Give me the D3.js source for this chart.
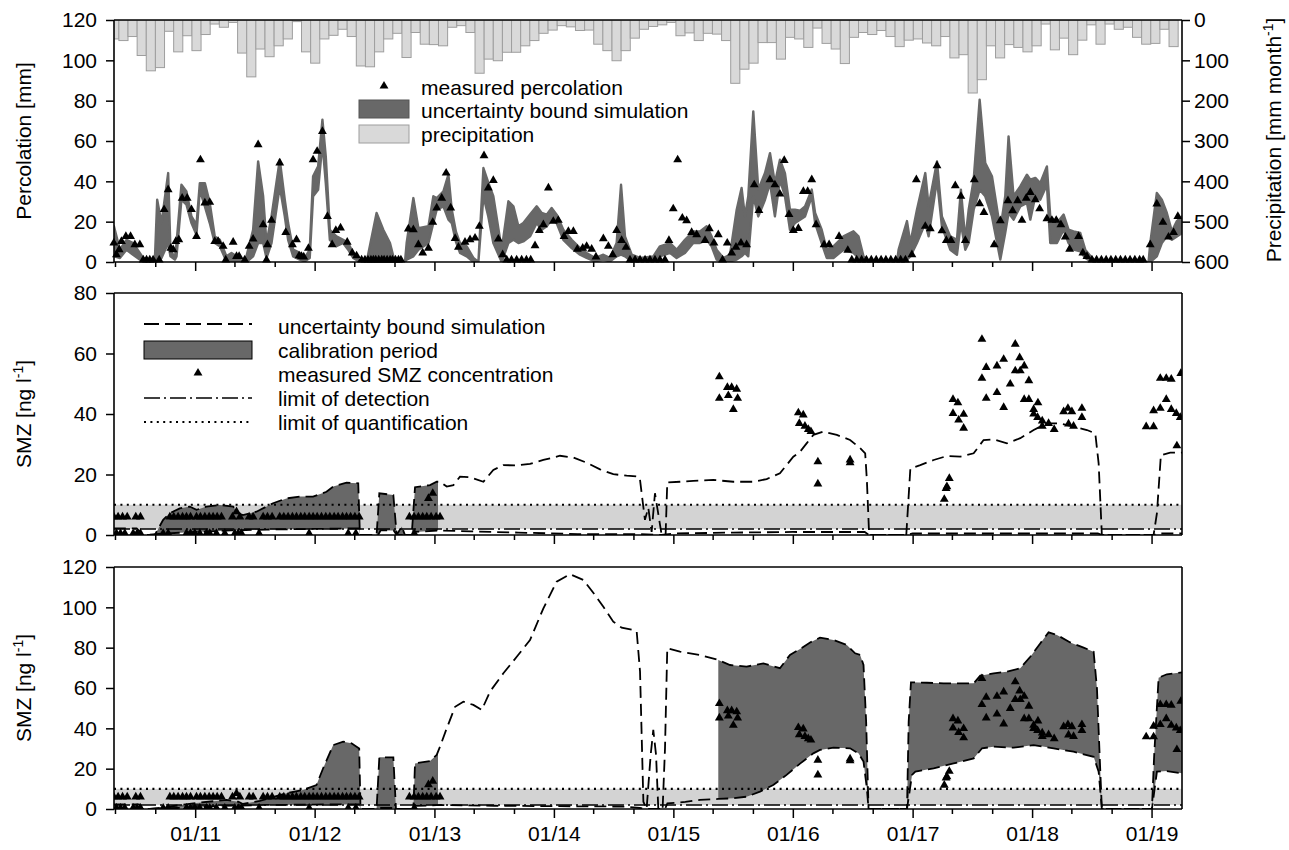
<!DOCTYPE html>
<html>
<head>
<meta charset="utf-8">
<script src="https://cdn.jsdelivr.net/npm/d3@7"></script>
<style>
  body { margin: 0; background: #fff; }
  text { font-family: "Liberation Sans", Arial, sans-serif; fill: #000; }
</style>
</head>
<body>
<svg id="chart" width="1289" height="850"></svg>
<script>
// ---- data (time as decimal years) ----
const precipStart = Date.UTC(2010, 3, 15);
const precipStepDays = 27.9;
const precip = [47,51,41,88,126,118,28,79,39,76,36,10,18,6,82,141,72,91,64,47,4,79,107,47,38,23,41,114,116,79,47,33,93,31,60,61,64,18,
  14,31,132,97,101,80,80,64,51,33,25,14,17,26,25,60,76,101,76,45,23,16,12,6,39,32,51,33,35,51,157,122,107,56,56,97,43,47,68,
  20,58,72,108,43,31,36,26,41,66,50,47,57,64,41,94,86,181,148,64,94,61,68,79,64,10,74,45,86,50,12,60,10,23,18,43,60,58,23,66];

// [time, lower, upper]
const percBand = [
  [2010.32,2.8,17.7],[2010.37,2.0,6.1],[2010.425,6.1,11.0],[2010.48,3.6,9.4],[2010.565,0,2.0],[2010.662,0,0],
  [2010.682,1.2,30.9],[2010.718,2.0,19.3],[2010.774,9.4,44.1],[2010.793,2.8,6.1],[2010.83,1.2,2.0],[2010.844,2.8,9.4],
  [2010.885,30.9,38.3],[2010.927,28.4,35.0],[2010.969,19.3,22.6],[2011.011,13.5,18.5],[2011.039,35.8,39.1],[2011.081,27.6,39.1],
  [2011.122,19.3,29.3],[2011.164,9.4,12.7],[2011.206,7.8,11.0],[2011.262,0.3,2.8],[2011.304,0,4.5],[2011.346,0,2.8],
  [2011.401,0,0],[2011.429,0,2.8],[2011.485,2.8,16.0],[2011.527,9.4,49.9],[2011.569,9.4,32.6],[2011.597,2.0,9.4],
  [2011.639,9.4,22.6],[2011.708,37.5,50.7],[2011.75,22.6,30.9],[2011.778,11.0,19.3],[2011.82,2.8,6.1],[2011.876,1.2,4.5],
  [2011.917,0.3,2.0],[2011.959,2.0,6.1],[2011.987,32.6,42.5],[2012.029,35.8,47.4],[2012.065,59.0,70.6],[2012.093,39.1,52.4],
  [2012.127,11.0,16.0],[2012.182,7.8,12.7],[2012.238,9.4,11.0],[2012.28,6.1,9.4],[2012.322,2.0,4.5],[2012.378,0,0.3],
  [2012.434,0,0],[2012.517,0,24.3],[2012.573,0,16.0],[2012.629,0,9.4],[2012.657,0,2.8],[2012.685,0,0],[2012.754,0,0],
  [2012.768,1.2,9.4],[2012.824,2.8,31.7],[2012.866,6.1,16.8],[2012.95,9.4,17.7],[2012.991,19.3,32.6],[2013.019,25.9,31.7],
  [2013.075,27.6,35.0],[2013.117,21.0,43.3],[2013.145,19.3,26.0],[2013.18,10.0,15.0],[2013.214,4.5,9.4],[2013.27,2.8,7.8],
  [2013.326,0,2.0],[2013.368,0,0],[2013.41,32.6,46.6],[2013.451,22.6,39.4],[2013.493,9.4,32.6],[2013.563,0,6.1],
  [2013.619,9.4,30.1],[2013.661,11.0,27.6],[2013.703,9.4,17.7],[2013.744,10.2,19.3],[2013.8,12.7,23.5],[2013.856,19.3,27.6],
  [2013.898,16.0,24.3],[2013.94,17.7,23.5],[2013.981,21.0,26.8],[2014.023,19.3,23.5],[2014.079,11.0,16.0],[2014.149,6.9,11.0],
  [2014.219,3.6,6.9],[2014.274,2.0,4.5],[2014.344,0.3,2.0],[2014.414,1.2,3.6],[2014.47,0.3,2.0],[2014.525,2.8,9.4],
  [2014.562,3.6,38.3],[2014.595,2.8,12.7],[2014.651,0.3,3.6],[2014.721,0,2.0],[2014.832,0.3,2.8],[2014.888,2.8,7.8],
  [2014.972,4.5,9.4],[2015.027,2.0,6.1],[2015.097,4.5,11.0],[2015.167,9.4,15.2],[2015.223,9.4,15.2],[2015.279,11.0,17.7],
  [2015.32,7.8,12.7],[2015.362,1.2,6.1],[2015.418,0,2.0],[2015.474,0.3,3.6],[2015.53,1.2,25.9],[2015.571,2.8,36.7],
  [2015.599,4.5,22.6],[2015.627,2.8,32.6],[2015.669,32.6,74.7],[2015.711,22.6,35.8],[2015.767,30.9,44.1],[2015.809,39.1,54.0],
  [2015.85,22.6,39.1],[2015.892,40.8,50.7],[2015.934,32.6,44.1],[2015.976,16.0,25.9],[2016.018,19.3,25.9],[2016.06,21.0,25.5],
  [2016.102,22.6,27.6],[2016.158,32.6,35.9],[2016.186,19.3,24.3],[2016.241,9.4,16.0],[2016.283,2.0,6.1],[2016.339,2.0,7.8],
  [2016.423,6.1,12.7],[2016.506,4.5,15.2],[2016.548,2.0,12.7],[2016.59,0,2.8],[2016.646,0,0],[2016.869,0,0],
  [2016.883,0,6.1],[2016.953,1.2,20.3],[2016.981,2.8,9.4],[2017.036,9.4,25.9],[2017.106,19.3,44.1],[2017.134,12.7,27.6],
  [2017.204,40.8,49.9],[2017.245,17.7,22.6],[2017.315,6.1,12.7],[2017.371,3.6,11.0],[2017.404,19.3,35.9],[2017.441,6.1,11.0],
  [2017.469,9.4,25.9],[2017.511,25.9,40.8],[2017.561,35.9,80.5],[2017.608,32.6,49.1],[2017.664,22.6,42.5],[2017.734,1.2,16.0],
  [2017.775,14.4,32.6],[2017.803,24.3,62.3],[2017.845,21.0,32.6],[2017.901,27.6,37.5],[2017.957,29.3,43.3],[2017.985,21.0,40.8],
  [2018.027,32.6,41.7],[2018.068,30.9,39.1],[2018.124,38.3,47.4],[2018.152,9.4,22.6],[2018.208,9.4,19.3],[2018.264,16.0,23.5],
  [2018.305,9.4,16.0],[2018.347,6.1,15.2],[2018.403,5.3,14.4],[2018.445,2.0,6.1],[2018.501,0,2.0],[2018.543,0,0],
  [2018.975,0,0],[2018.989,0,9.4],[2019.044,2.8,34.2],[2019.086,9.4,30.9],[2019.128,12.7,24.3],[2019.17,11.0,15.2],
  [2019.212,12.7,20.3],[2019.256,14.4,22.6]
];

const percMeasured = [
  [2010.319,9.4],[2010.341,3.6],[2010.364,6.1],[2010.383,10.2],[2010.42,12.7],[2010.459,12.7],[2010.495,8.6],[2010.537,8.6],
  [2010.565,1],[2010.593,1],[2010.62,1],[2010.648,1],[2010.699,1],
  [2010.74,26.0],[2010.774,35.9],[2010.796,6.9],[2010.816,6.1],[2010.838,10.2],[2010.863,11.1],[2010.891,31.7],[2010.933,31.7],
  [2010.969,26.0],[2011.011,12.7],[2011.044,50.7],[2011.081,29.3],[2011.122,29.6],[2011.164,10.2],[2011.192,10.2],[2011.234,7.8],
  [2011.256,1],[2011.318,9.8],[2011.346,2.8],[2011.368,2.8],[2011.415,1],[2011.452,7.8],[2011.485,11.4],[2011.527,58.2],
  [2011.569,18.5],[2011.597,1],[2011.605,8.6],[2011.639,20.7],[2011.708,49.1],[2011.758,14.7],[2011.814,8.6],[2011.848,11.1],
  [2011.87,3.1],[2011.89,2.8],[2011.909,2.5],[2011.948,6.8],[2011.987,50.7],[2012.021,54.9],[2012.065,64.8],[2012.107,22.6],
  [2012.146,8.6],[2012.177,15.7],[2012.216,16.9],[2012.272,9.8],[2012.314,4.5],[2012.35,3.1],[2012.392,1],
  [2012.42,1],[2012.445,1],[2012.47,1],[2012.49,1],[2012.51,1],[2012.535,1],[2012.56,1],[2012.58,1],[2012.605,1],[2012.63,1],
  [2012.65,1],[2012.675,1],[2012.70,1],[2012.72,1],
  [2012.782,16.4],[2012.824,16.0],[2012.866,8.6],[2012.902,4.5],[2012.95,6.9],[2012.986,19.7],[2013.019,26.8],[2013.061,31.7],
  [2013.098,44.1],[2013.136,26.8],[2013.173,11.7],[2013.201,7.4],[2013.256,9.8],[2013.298,11.1],[2013.34,11.9],[2013.376,17.7],
  [2013.415,52.7],[2013.451,36.7],[2013.493,40.5],[2013.535,11.4],[2013.571,3.6],
  [2013.605,1],[2013.645,1],[2013.688,1],[2013.73,1],[2013.77,1],[2013.806,1],
  [2013.842,8.1],[2013.878,15.7],[2013.912,18.5],[2013.954,36.7],[2013.995,20.2],[2014.037,20.7],[2014.085,12.7],[2014.121,15.2],
  [2014.163,15.2],[2014.196,6.4],[2014.241,6.9],[2014.274,7.8],[2014.316,6.4],[2014.352,2.5],[2014.414,11.6],[2014.456,7.8],
  [2014.492,3.6],[2014.525,15.7],[2014.567,10.7],[2014.604,7.3],
  [2014.637,1],[2014.679,1],[2014.721,1],[2014.763,1],[2014.804,1],[2014.846,1],[2014.888,1],[2014.93,1],
  [2014.963,10.7],[2014.999,26.4],[2015.036,50.7],[2015.075,21.8],[2015.111,20.5],[2015.153,14.7],[2015.195,13.6],[2015.265,10.7],
  [2015.301,16.5],[2015.34,9.4],[2015.376,13.6],[2015.412,1],[2015.451,9.4],[2015.488,4.5],[2015.524,7.4],[2015.566,9.4],
  [2015.613,8.6],[2015.677,38.3],[2015.716,25.6],[2015.808,40.8],[2015.85,38.3],[2015.892,33.7],[2015.928,50.4],[2015.968,23.6],
  [2016.004,15.7],[2016.046,16.7],[2016.088,35.0],[2016.124,35.0],[2016.158,40.8],[2016.194,18.5],[2016.261,8.6],[2016.303,8.6],
  [2016.386,12.7],[2016.459,5.8],
  [2016.492,1],[2016.533,1],[2016.574,1],[2016.614,1],[2016.655,1],[2016.696,1],[2016.737,1],[2016.777,1],[2016.818,1],
  [2016.859,1],[2016.9,1],[2016.94,1],
  [2016.994,3.6],[2017.031,40.8],[2017.106,17.7],[2017.148,16.5],[2017.204,47.8],[2017.245,15.5],[2017.282,10.7],[2017.321,10.7],
  [2017.357,37.9],[2017.404,32.6],[2017.441,10.7],[2017.516,40.8],[2017.561,28.9],[2017.597,24.6],[2017.683,8.6],[2017.734,20.5],
  [2017.798,30.4],[2017.837,25.5],[2017.879,30.4],[2017.915,20.7],[2017.951,31.7],[2017.985,34.5],[2018.027,30.9],[2018.063,26.4],
  [2018.124,21.5],[2018.166,20.7],[2018.202,20.7],[2018.241,18.5],[2018.278,12.4],[2018.314,6.4],[2018.389,12.7],[2018.425,4.5],
  [2018.459,2.8],
  [2018.501,1],[2018.54,1],[2018.58,1],[2018.62,1],[2018.66,1],[2018.70,1],[2018.74,1],[2018.78,1],[2018.82,1],[2018.86,1],
  [2018.90,1],[2018.93,1],
  [2018.989,8.6],[2019.044,28.8],[2019.095,19.7],[2019.142,12.4],[2019.184,14.7],[2019.22,22.6]
];

// SMZ: limits (ng/l)
const smzLOD = 2;
const smzLOQ = 10;

// measured SMZ concentration (same series in both lower panels)
const smzMeasured = [
  [2010.319,6],[2010.355,6],[2010.392,6],[2010.431,6],[2010.503,6],[2010.542,6],
  [2010.788,6],[2010.821,6],[2010.857,6],[2010.894,6],[2010.927,6],[2010.961,6],
  [2011.011,6],[2011.044,6],[2011.081,6],[2011.117,6],[2011.15,6],[2011.184,6],[2011.22,6],
  [2011.312,6],[2011.346,7.7],[2011.374,6],[2011.452,6],[2011.485,6],[2011.569,6],[2011.605,6],[2011.644,6],
  [2011.708,6],[2011.742,6],[2011.778,6],[2011.814,6],[2011.848,6],[2011.884,6],[2011.917,6],[2011.954,6],[2011.987,6],
  [2012.021,6],[2012.057,6],[2012.093,6],[2012.127,6],[2012.163,6],[2012.196,6],[2012.233,6],[2012.266,6],[2012.3,6],
  [2012.336,6],[2012.372,6],
  [2012.791,6],[2012.83,6],[2012.866,6],[2012.902,6],[2012.936,6],[2012.972,6],[2013.014,6],[2013.047,6],
  [2010.341,0.5],[2010.375,0.5],[2010.411,0.5],[2010.481,0.5],[2010.514,0.5],[2010.542,0.5],[2010.732,0.5],[2010.774,0.5],
  [2010.927,0.5],[2010.961,0.5],[2010.997,0.5],[2011.039,0.5],[2011.095,0.5],[2011.122,0.5],[2011.178,0.5],[2011.248,0.5],
  [2011.332,0.5],[2011.36,0.5],[2011.388,0.5],[2011.535,0.5],[2011.954,0.5],[2012.28,0.5],[2012.344,0.5],[2012.832,0.5],
  [2012.95,12.1],[2012.986,13.8],
  [2015.385,52.3],[2015.452,48.8],[2015.488,48.8],[2015.53,48.2],[2015.385,45.2],[2015.46,46.1],[2015.538,45.2],[2015.502,41.5],
  [2016.046,40.4],[2016.087,39.7],[2016.054,36.9],[2016.101,36.0],[2016.129,34.9],[2016.151,34.2],[2016.209,24.2],[2016.209,16.9],
  [2016.478,24.8],[2016.478,23.9],
  [2017.265,11.8],[2017.28,15.4],[2017.287,16.0],[2017.307,18.7],
  [2017.338,44.8],[2017.379,43.7],[2017.338,40.2],[2017.385,38.0],[2017.427,39.9],[2017.427,35.3],
  [2017.58,64.7],[2017.58,51.8],[2017.616,55.4],[2017.616,45.2],[2017.706,55.9],[2017.706,47.1],[2017.762,58.1],[2017.762,42.2],
  [2017.817,49.9],[2017.859,63.1],[2017.859,54.3],[2017.896,58.6],[2017.901,54.3],[2017.934,55.9],[2017.973,51.0],[2017.934,44.8],
  [2017.973,44.8],[2018.013,41.5],[2018.049,43.7],[2018.013,40.0],[2018.046,38.9],[2018.085,37.7],[2018.085,36.0],[2018.138,36.9],
  [2018.185,34.9],[2018.264,40.8],[2018.3,41.9],[2018.333,40.8],[2018.417,41.9],[2018.417,38.9],[2018.305,36.7],[2018.347,36.0],
  [2018.955,35.8],[2019.017,35.8],[2019.017,41.1],[2019.073,41.9],[2019.123,44.8],[2019.073,51.8],[2019.123,51.8],[2019.165,51.5],
  [2019.165,41.5],[2019.207,40.2],[2019.24,38.9],[2019.245,53.4],[2019.212,29.5]
];

// middle panel: uncertainty bounds
const smzUpperA = [
  [2010.319,2.2],[2010.51,2.2],[2010.565,0],[2010.662,0],[2010.732,5.0],[2010.788,7.2],[2010.871,8.8],[2010.955,9.4],
  [2011.011,8.3],[2011.095,9.4],[2011.206,9.9],[2011.318,9.4],[2011.36,7.2],[2011.40,6.6],[2011.513,7.7],[2011.652,10.5],
  [2011.764,12.1],[2011.876,12.7],[2011.987,12.7],[2012.099,14.3],[2012.155,16.0],[2012.266,17.3],[2012.364,17.1],[2012.378,0],
  [2012.517,0],[2012.54,13.8],[2012.657,13.2],[2012.685,0],[2012.727,2.8],[2012.754,0],[2012.81,0],[2012.838,15.8],
  [2012.963,16.5],[2013.019,17.6],[2013.047,17.6],[2013.103,16.0],[2013.159,16.5],[2013.214,19.3],[2013.298,19.1],[2013.41,17.6],
  [2013.493,21.5],[2013.577,23.1],[2013.689,23.0],[2013.8,23.5],[2013.912,24.8],[2014.051,26.2],[2014.163,25.6],[2014.274,23.9],
  [2014.386,21.7],[2014.497,20.1],[2014.609,19.6],[2014.707,19.3],[2014.72,18.5],[2014.762,5.0],[2014.79,9.0],[2014.818,1.0],
  [2014.846,13.8],[2014.902,0],[2014.935,0],[2014.949,17.4],[2015.055,17.6],[2015.167,17.9],[2015.334,18.2],[2015.502,17.6],
  [2015.669,17.6],[2015.781,18.5],[2015.892,20.4],[2016.004,25.9],[2016.06,27.5],[2016.115,30.3],[2016.172,33.1],[2016.255,34.2],
  [2016.367,33.1],[2016.478,31.4],[2016.562,28.7],[2016.604,27.0],[2016.618,18.2],[2016.637,0],[2016.947,0],[2016.981,22.0],
  [2017.064,23.1],[2017.176,24.8],[2017.287,26.1],[2017.399,25.9],[2017.511,27.0],[2017.594,31.4],[2017.678,31.6],[2017.789,30.3],
  [2017.901,32.0],[2018.013,34.7],[2018.124,36.9],[2018.236,36.9],[2018.347,35.8],[2018.459,34.7],[2018.529,33.6],[2018.557,23.7],
  [2018.584,0],[2019.017,0],[2019.045,7.2],[2019.078,26.4],[2019.156,27.2],[2019.256,27.2]
];
const smzLowerA = [
  [2010.319,0.5],[2010.565,0],[2010.75,0.5],[2011.0,1.0],[2011.3,1.5],[2011.6,1.8],[2012.0,2.0],[2012.37,2.2],[2012.378,0],
  [2012.53,0],[2012.55,1.5],[2012.66,1.5],[2012.685,0],[2012.82,0],[2012.84,1.0],[2013.03,1.5],[2013.3,1.2],[2013.7,0.8],
  [2014.2,0.3],[2014.7,0.3],[2014.9,0],[2015.0,0.5],[2015.5,0.8],[2016.0,1.0],[2016.6,1.0],[2016.637,0],[2016.947,0],
  [2017.0,0.5],[2018.55,0.5],[2018.584,0],[2019.017,0],[2019.05,0.5],[2019.256,0.5]
];
const calibA = [[2010.66, 2013.03]];

// lower panel: uncertainty bounds
const smzUpperB = [
  [2010.319,2.3],[2010.53,2.3],[2010.565,0],[2010.62,0],[2010.76,1.0],[2011.011,3.0],[2011.262,4.5],[2011.36,3.6],[2011.40,2.5],
  [2011.541,4.0],[2011.764,7.8],[2011.904,9.4],[2012.015,11.9],[2012.071,20.2],[2012.155,31.7],[2012.238,33.4],[2012.308,32.6],
  [2012.372,30.0],[2012.383,0],[2012.517,0],[2012.54,25.6],[2012.657,25.6],[2012.679,0],[2012.824,0],[2012.838,22.6],
  [2012.963,23.8],[2013.019,26.8],[2013.047,31.0],[2013.103,40.0],[2013.173,50.7],[2013.242,53.2],[2013.326,51.6],[2013.396,49.1],
  [2013.465,58.2],[2013.577,67.3],[2013.689,75.5],[2013.8,83.8],[2013.912,99.5],[2014.023,112.7],[2014.135,116.4],[2014.246,113.6],
  [2014.344,106.1],[2014.414,100.3],[2014.497,92.9],[2014.567,89.9],[2014.665,88.8],[2014.693,88.0],[2014.721,68.1],[2014.749,3.6],
  [2014.776,0],[2014.81,26.8],[2014.832,39.2],[2014.855,26.8],[2014.874,0],[2014.91,0],[2014.93,30.0],[2014.949,79.7],
  [2015.055,78.0],[2015.223,76.4],[2015.376,73.9],[2015.474,71.4],[2015.613,70.6],[2015.753,72.2],[2015.892,69.8],[2015.976,76.4],
  [2016.06,79.3],[2016.144,82.6],[2016.227,85.0],[2016.339,83.8],[2016.451,81.3],[2016.52,77.2],[2016.562,76.4],[2016.59,71.4],
  [2016.612,43.3],[2016.632,0],[2016.953,0],[2016.967,43.3],[2016.986,62.8],[2017.12,62.6],[2017.259,62.3],[2017.371,62.3],
  [2017.511,62.3],[2017.566,66.1],[2017.678,67.3],[2017.789,68.1],[2017.901,69.8],[2017.985,75.5],[2018.068,82.1],[2018.138,87.6],
  [2018.208,86.3],[2018.319,82.6],[2018.431,80.0],[2018.515,78.0],[2018.543,59.8],[2018.571,18.5],[2018.584,0],[2019.003,0],
  [2019.022,26.8],[2019.059,65.1],[2019.128,66.8],[2019.256,67.8]
];
const smzLowerB = [
  [2010.319,0.5],[2010.565,0],[2010.85,0.5],[2011.2,1.5],[2011.6,2.0],[2012.0,2.2],[2012.37,2.3],[2012.383,0],[2012.517,0],
  [2012.54,0.5],[2012.657,0.5],[2012.679,0],[2012.824,0],[2012.84,1.5],[2013.05,2.0],[2013.5,1.6],[2014.0,1.4],[2014.6,1.2],
  [2014.72,0.5],[2014.776,0],[2014.93,0],[2014.95,2.8],[2015.1,3.5],[2015.223,4.5],[2015.376,5.0],[2015.5,5.3],[2015.613,6.1],
  [2015.725,8.6],[2015.836,11.9],[2015.948,16.9],[2016.06,22.5],[2016.171,27.6],[2016.227,29.3],[2016.339,30.4],[2016.478,30.1],
  [2016.548,27.6],[2016.59,23.5],[2016.618,10.2],[2016.632,0],[2016.953,0],[2016.995,16.9],[2017.023,18.5],[2017.176,20.2],
  [2017.343,22.6],[2017.511,25.1],[2017.581,30.1],[2017.678,30.9],[2017.845,30.4],[2018.013,31.7],[2018.18,30.1],[2018.347,28.4],
  [2018.515,25.9],[2018.557,18.5],[2018.584,0],[2019.003,0],[2019.045,18.5],[2019.128,18.8],[2019.256,17.7]
];
const calibB = [[2010.66, 2013.03], [2015.376, 2019.26]];

const percTicks = [0, 20, 40, 60, 80, 100, 120];
const precipTicks = [0, 100, 200, 300, 400, 500, 600];
const smzTicksA = [0, 20, 40, 60, 80];
const smzTicksB = [0, 20, 40, 60, 80, 100, 120];

// ---- helpers ----
function dec(y) {
  const yr = Math.floor(y);
  const a = Date.UTC(yr, 0, 1), b = Date.UTC(yr + 1, 0, 1);
  return new Date(a + (y - yr) * (b - a));
}
const precipDate = i => new Date(precipStart + i * precipStepDays * 86400000);

const svg = d3.select("#chart");
const xL = 114, xR = 1182;
const x = d3.scaleUtc()
  .domain([new Date(Date.UTC(2010, 3, 28)), new Date(Date.UTC(2019, 3, 4))])
  .range([xL, xR]);

const dark = "#686868";
const FS = 21;
const tri = d3.symbol().type(d3.symbolTriangle).size(34);
const defs = svg.append("defs");

function clip(id, top, bottom) {
  defs.append("clipPath").attr("id", id)
    .append("rect").attr("x", xL).attr("y", top).attr("width", xR - xL).attr("height", bottom - top);
}

function calibClip(id, periods, top, bottom) {
  const cp = defs.append("clipPath").attr("id", id);
  periods.forEach(p => {
    const a = Math.max(xL, x(dec(p[0]))), b = Math.min(xR, x(dec(p[1])));
    cp.append("rect").attr("x", a).attr("y", top).attr("width", b - a).attr("height", bottom - top);
  });
}

function xAxes(bottom, labels) {
  const major = d3.axisBottom(x).ticks(d3.utcYear.every(1)).tickSize(9).tickPadding(8)
    .tickFormat(labels ? d3.utcFormat("%m/%y") : "");
  const minorVals = x.ticks(d3.utcMonth.every(4)).filter(d => d.getUTCMonth() !== 0);
  const minor = d3.axisBottom(x).tickValues(minorVals).tickSize(5).tickFormat("");
  const gMaj = svg.append("g").attr("transform", `translate(0,${bottom})`).call(major);
  const gMin = svg.append("g").attr("transform", `translate(0,${bottom})`).call(minor);
  [gMaj, gMin].forEach(g => {
    g.select(".domain").remove();
    g.selectAll("line").attr("stroke", "#000").attr("stroke-width", 1.5);
  });
  gMaj.selectAll("text").attr("font-size", FS).attr("font-family", "Liberation Sans, Arial, sans-serif");
}

function yAxisLeft(scale, ticks) {
  const g = svg.append("g").attr("transform", `translate(${xL},0)`)
    .call(d3.axisLeft(scale).tickValues(ticks).tickSize(8).tickPadding(9));
  g.select(".domain").remove();
  g.selectAll("line").attr("stroke", "#000").attr("stroke-width", 1.5);
  g.selectAll("text").attr("font-size", FS).attr("font-family", "Liberation Sans, Arial, sans-serif");
}

function frame(top, bottom) {
  const f = svg.append("g").attr("stroke", "#000").attr("stroke-width", 1.6).attr("fill", "none");
  f.append("line").attr("x1", xL).attr("x2", xL).attr("y1", top).attr("y2", bottom);
  f.append("line").attr("x1", xL).attr("x2", xR).attr("y1", bottom).attr("y2", bottom);
  f.append("line").attr("x1", xL).attr("x2", xR).attr("y1", top).attr("y2", top);
  f.append("line").attr("x1", xR).attr("x2", xR).attr("y1", top).attr("y2", bottom);
}

function yTitle(cx, cy, main, sup, tail) {
  const t = svg.append("text").attr("transform", `translate(${cx},${cy}) rotate(-90)`)
    .attr("text-anchor", "middle").attr("font-size", FS);
  t.append("tspan").text(main);
  if (sup) {
    t.append("tspan").attr("font-size", 14).attr("dy", -8).text(sup);
    t.append("tspan").attr("dy", 8).text(tail);
  }
}

// ================= Panel 1: percolation & precipitation =================
const yPerc = d3.scaleLinear().domain([0, 120]).range([262, 20]);
const yPrec = d3.scaleLinear().domain([0, 600]).range([20, 262]);
clip("c1", 20, 262);

const g1 = svg.append("g").attr("clip-path", "url(#c1)");
g1.selectAll("rect.pr").data(precip).join("rect")
  .attr("class", "pr")
  .attr("x", (d, i) => x(precipDate(i)))
  .attr("width", (d, i) => x(precipDate(i + 1)) - x(precipDate(i)))
  .attr("y", yPrec(0))
  .attr("height", d => yPrec(d) - yPrec(0))
  .attr("fill", "#d9d9d9")
  .attr("stroke", "#9e9e9e")
  .attr("stroke-width", 1);

g1.append("path").datum(percBand)
  .attr("fill", dark)
  .attr("stroke", dark)
  .attr("stroke-width", 2.4)
  .attr("stroke-linejoin", "round")
  .attr("d", d3.area().x(d => x(dec(d[0]))).y0(d => yPerc(d[1])).y1(d => yPerc(d[2])));

svg.append("g").selectAll("path").data(percMeasured).join("path")
  .attr("d", tri)
  .attr("transform", d => `translate(${x(dec(d[0]))},${yPerc(d[1])})`)
  .attr("fill", "#000");

frame(20, 262);
xAxes(262, false);
yAxisLeft(yPerc, percTicks);
{
  const g = svg.append("g").attr("transform", `translate(${xR},0)`)
    .call(d3.axisRight(yPrec).tickValues(precipTicks).tickSize(8).tickPadding(4));
  g.select(".domain").remove();
  g.selectAll("line").attr("stroke", "#000").attr("stroke-width", 1.5);
  g.selectAll("text").attr("font-size", FS).attr("font-family", "Liberation Sans, Arial, sans-serif");
}
yTitle(31, 141, "Percolation [mm]");
yTitle(1281, 140, "Precipitation [mm month", "-1", "]");

// legend 1
{
  const lg = svg.append("g");
  lg.append("path").attr("d", tri).attr("transform", "translate(384,86)").attr("fill", "#000");
  lg.append("rect").attr("x", 359).attr("y", 100).attr("width", 50).attr("height", 18).attr("fill", dark).attr("stroke", "#555");
  lg.append("rect").attr("x", 359).attr("y", 125).attr("width", 50).attr("height", 18).attr("fill", "#d9d9d9").attr("stroke", "#9e9e9e");
  [["measured percolation", 87], ["uncertainty bound simulation", 110], ["precipitation", 134]].forEach(r => {
    lg.append("text").attr("x", 421).attr("y", r[1] + 7.5).attr("font-size", FS).text(r[0]);
  });
}

// ================= SMZ panels =================
function smzPanel(id, top, bottom, yMax, ticks, upper, lower, calib, labels) {
  const y = d3.scaleLinear().domain([0, yMax]).range([bottom, top]);
  clip(id, top, bottom);
  calibClip(id + "cal", calib, top, bottom);
  const g = svg.append("g").attr("clip-path", `url(#${id})`);

  g.append("rect").attr("x", xL).attr("width", xR - xL)
    .attr("y", y(smzLOQ)).attr("height", y(smzLOD) - y(smzLOQ)).attr("fill", "#d3d3d3");

  const line = d3.line().x(d => x(dec(d[0]))).y(d => y(d[1]));
  const poly = upper.concat(lower.slice().reverse());
  g.append("path").attr("clip-path", `url(#${id}cal)`)
    .attr("d", line(poly) + "Z").attr("fill", dark);

  g.append("line").attr("x1", xL).attr("x2", xR).attr("y1", y(smzLOD)).attr("y2", y(smzLOD))
    .attr("stroke", "#000").attr("stroke-width", 1.5).attr("stroke-dasharray", "16,4,2,4");
  g.append("line").attr("x1", xL).attr("x2", xR).attr("y1", y(smzLOQ)).attr("y2", y(smzLOQ))
    .attr("stroke", "#000").attr("stroke-width", 2.2).attr("stroke-dasharray", "2,4.4");

  [upper, lower].forEach(s => {
    g.append("path").datum(s).attr("d", line).attr("fill", "none")
      .attr("stroke", "#000").attr("stroke-width", 1.8).attr("stroke-dasharray", "12,6");
  });

  g.append("g").selectAll("path").data(smzMeasured).join("path")
    .attr("d", tri)
    .attr("transform", d => `translate(${x(dec(d[0]))},${y(d[1])})`)
    .attr("fill", "#000");

  frame(top, bottom);
  xAxes(bottom, labels);
  yAxisLeft(y, ticks);
  yTitle(31, (top + bottom) / 2, "SMZ [ng l", "-1", "]");
}

smzPanel("c2", 293, 535, 80, smzTicksA, smzUpperA, smzLowerA, calibA, false);
smzPanel("c3", 567, 809, 120, smzTicksB, smzUpperB, smzLowerB, calibB, true);

// legend 2
{
  const lg = svg.append("g");
  lg.append("line").attr("x1", 144).attr("x2", 252).attr("y1", 324).attr("y2", 324)
    .attr("stroke", "#000").attr("stroke-width", 1.8).attr("stroke-dasharray", "15,6");
  lg.append("rect").attr("x", 144).attr("y", 341).attr("width", 108).attr("height", 18)
    .attr("fill", dark).attr("stroke", "#000").attr("stroke-width", 1);
  lg.append("path").attr("d", tri).attr("transform", "translate(198,373)").attr("fill", "#000");
  lg.append("line").attr("x1", 144).attr("x2", 252).attr("y1", 398).attr("y2", 398)
    .attr("stroke", "#000").attr("stroke-width", 1.5).attr("stroke-dasharray", "16,4,2,4");
  lg.append("line").attr("x1", 144).attr("x2", 252).attr("y1", 422).attr("y2", 422)
    .attr("stroke", "#000").attr("stroke-width", 2.2).attr("stroke-dasharray", "2,4.4");
  [["uncertainty bound simulation", 326], ["calibration period", 350], ["measured SMZ concentration", 374],
   ["limit of detection", 398], ["limit of quantification", 422]].forEach(r => {
    lg.append("text").attr("x", 278).attr("y", r[1] + 7.5).attr("font-size", FS).text(r[0]);
  });
}
</script>
</body>
</html>
